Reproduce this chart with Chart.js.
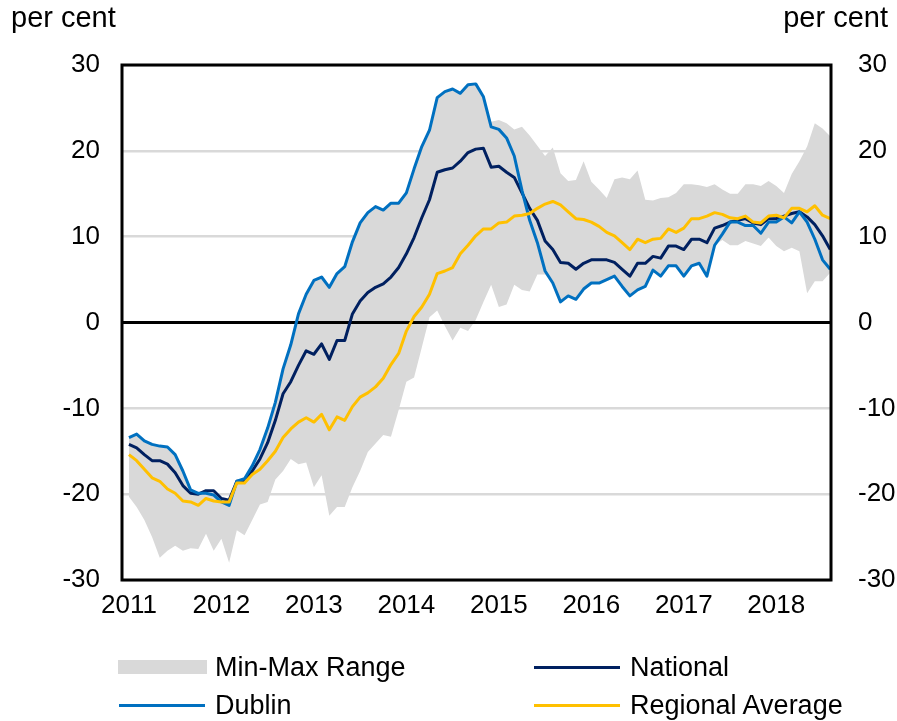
<!DOCTYPE html>
<html>
<head>
<meta charset="utf-8">
<script src="https://cdn.jsdelivr.net/npm/chart.js@4.4.1/dist/chart.umd.min.js"></script>
<style>
  body { margin: 0; background: #fff; }
  #wrap { position: relative; width: 897px; height: 721px; font-family: "Liberation Sans", Arial, sans-serif; color: #000; }
  #chart { position: absolute; left: 0; top: 0; }
  .unit { position: absolute; top: 1px; font-size: 29px; }
  .item { position: absolute; height: 30px; font-size: 27px; line-height: 30px; white-space: nowrap; }
  .item span.sw { position: absolute; left: 0; }
  .item span.txt { position: absolute; }
</style>
</head>
<body>
<div id="wrap">
  <canvas id="chart" width="897" height="721"></canvas>
  <div class="unit" style="left:11px">per cent</div>
  <div class="unit" style="right:9px">per cent</div>
  <div id="legend"></div>
</div>
<script>
// monthly, Jan 2011 .. Aug 2018, annual % change
const yearLabels = ["2011", "2012", "2013", "2014", "2015", "2016", "2017", "2018"];

const dublin = [
  -13.4, -13.0, -13.8, -14.2, -14.4, -14.5, -15.4, -17.3, -19.5, -19.9, -19.9, -20.1,
  -20.9, -21.3, -18.5, -18.2, -16.7, -14.8, -12.3, -9.3, -5.4, -2.6, 1.0, 3.3,
  4.9, 5.3, 4.1, 5.7, 6.5, 9.4, 11.6, 12.8, 13.5, 13.1, 13.9, 13.9,
  15.1, 17.9, 20.5, 22.4, 26.2, 26.9, 27.2, 26.7, 27.7, 27.8, 26.3, 22.8,
  22.5, 21.5, 19.4, 15.4, 11.9, 9.3, 6.0, 4.6, 2.4, 3.1, 2.7, 3.9,
  4.6, 4.6, 5.0, 5.4, 4.2, 3.1, 3.8, 4.2, 6.1, 5.4, 6.6, 6.6,
  5.4, 6.6, 6.9, 5.4, 9.0, 10.3, 11.7, 11.7, 11.3, 11.3, 10.4, 11.7,
  11.7, 12.3, 11.6, 12.9, 11.7, 9.7, 7.3, 6.2
];

const national = [
  -14.2, -14.6, -15.4, -16.1, -16.1, -16.5, -17.5, -19.0, -19.9, -20.0, -19.6, -19.6,
  -20.5, -20.7, -18.5, -18.5, -17.3, -15.9, -14.0, -11.4, -8.3, -6.9, -5.0, -3.3,
  -3.7, -2.5, -4.3, -2.1, -2.1, 1.0, 2.5, 3.5, 4.1, 4.5, 5.3, 6.4,
  8.0, 9.9, 12.2, 14.3, 17.5, 17.8, 18.0, 18.8, 19.8, 20.2, 20.3, 18.1,
  18.2, 17.5, 16.9, 15.1, 13.3, 11.9, 9.5, 8.5, 7.0, 6.9, 6.2, 6.9,
  7.3, 7.3, 7.3, 7.0, 6.2, 5.4, 6.9, 6.9, 7.7, 7.5, 8.9, 8.9,
  8.5, 9.7, 9.7, 9.3, 11.0, 11.3, 11.7, 11.9, 12.1, 11.6, 11.4, 12.1,
  12.1, 12.4, 12.7, 12.9, 12.3, 11.4, 10.1, 8.5
];

const regional = [
  -15.4, -16.1, -17.1, -18.1, -18.5, -19.4, -19.9, -20.8, -20.9, -21.3, -20.5, -20.8,
  -20.9, -20.9, -18.7, -18.7, -17.7, -17.1, -16.1, -15.0, -13.4, -12.4, -11.6, -11.1,
  -11.6, -10.7, -12.5, -11.0, -11.4, -9.8, -8.7, -8.2, -7.5, -6.5, -4.9, -3.6,
  -1.0, 0.7, 1.8, 3.3, 5.7, 6.0, 6.4, 8.0, 9.0, 10.1, 10.9, 10.9,
  11.6, 11.7, 12.4, 12.5, 12.7, 13.3, 13.8, 14.1, 13.7, 12.9, 12.1, 12.0,
  11.7, 11.2, 10.5, 10.1, 9.3, 8.5, 9.7, 9.3, 9.7, 9.8, 10.9, 10.5,
  11.0, 12.1, 12.1, 12.4, 12.8, 12.6, 12.2, 12.1, 12.4, 11.7, 11.6, 12.4,
  12.5, 12.2, 13.3, 13.3, 12.9, 13.6, 12.5, 12.1
];

const rangeMax = [
  -13.4, -13.0, -13.8, -14.2, -14.4, -14.5, -15.4, -17.3, -19.5, -19.9, -19.9, -20.1,
  -20.9, -21.3, -18.5, -18.2, -16.7, -14.8, -12.3, -9.3, -5.4, -2.6, 1.0, 3.3,
  4.9, 5.3, 4.1, 5.7, 6.5, 9.4, 11.6, 12.8, 13.5, 13.1, 13.9, 13.9,
  15.1, 17.9, 20.5, 22.4, 26.2, 26.9, 27.2, 26.7, 27.7, 27.8, 26.3, 23.4,
  23.6, 23.2, 22.5, 22.8, 21.8, 20.6, 19.4, 20.4, 17.4, 16.5, 16.6, 18.8,
  16.4, 15.5, 14.5, 16.7, 16.9, 16.7, 17.7, 14.3, 14.2, 14.5, 14.6, 15.1,
  16.1, 16.1, 16.0, 15.8, 16.1, 15.5, 15.0, 15.0, 16.1, 16.1, 15.9, 16.5,
  15.9, 15.1, 17.3, 18.8, 20.5, 23.2, 22.6, 21.7
];

const rangeMin = [
  -20.3, -21.5, -23.0, -25.0, -27.4, -26.6, -26.0, -26.6, -26.3, -26.4, -24.6, -26.6,
  -25.2, -28.0, -24.2, -24.8, -23.0, -21.2, -20.9, -18.3, -17.3, -15.9, -16.5, -16.3,
  -19.2, -17.8, -22.5, -21.5, -21.5, -19.2, -17.3, -15.1, -14.1, -13.1, -13.3, -10.2,
  -6.9, -6.4, -2.9, 0.6, 1.4, -0.4, -2.1, -0.6, -1.0, 0.3, 2.4, 4.4,
  1.8, 2.1, 4.4, 3.8, 3.6, 5.6, 5.6, 4.6, 2.4, 3.1, 2.7, 3.9,
  4.6, 4.6, 5.0, 5.4, 4.2, 3.1, 3.8, 4.2, 6.1, 5.4, 6.6, 6.6,
  5.4, 6.6, 6.9, 5.4, 9.0, 9.6, 9.0, 9.0, 9.5, 9.2, 8.9, 9.9,
  8.9, 8.3, 8.7, 8.3, 3.4, 4.8, 4.8, 5.8
];

const toPoints = (arr) => arr.map((v, i) => ({ x: i, y: v }));

const GREY = "#d9d9d9";
const FONT = { family: "'Liberation Sans', Arial, sans-serif", size: 26 };

// frame round the plot + black zero line on top of the grey band
const framePlugin = {
  id: "frame",
  afterDatasetDraw(chart, args) {
    if (args.index !== 4) return;
    const { ctx, chartArea } = chart;
    const y0 = chart.scales.y.getPixelForValue(0);
    ctx.save();
    ctx.strokeStyle = "#000";
    ctx.lineWidth = 3;
    ctx.beginPath();
    ctx.moveTo(chartArea.left, y0);
    ctx.lineTo(chartArea.right, y0);
    ctx.stroke();
    ctx.restore();
  },
  afterDraw(chart) {
    const { ctx, chartArea } = chart;
    ctx.save();
    ctx.strokeStyle = "#000";
    ctx.lineWidth = 3;
    ctx.strokeRect(chartArea.left, chartArea.top, chartArea.right - chartArea.left, chartArea.bottom - chartArea.top);
    ctx.restore();
  },
};

const chart = new Chart(document.getElementById("chart"), {
  type: "line",
  data: {
    datasets: [
      { label: "Regional Average", data: toPoints(regional), borderColor: "#ffc000", order: 1 },
      { label: "Dublin", data: toPoints(dublin), borderColor: "#0070c0", order: 2 },
      { label: "National", data: toPoints(national), borderColor: "#002060", order: 3 },
      { label: "Min-Max Range", data: toPoints(rangeMax), borderWidth: 0, borderColor: GREY, backgroundColor: GREY, fill: "+1", order: 10 },
      { label: "min", data: toPoints(rangeMin), borderWidth: 0, borderColor: GREY, fill: false, order: 9 },
    ],
  },
  options: {
    responsive: false,
    animation: false,
    layout: { padding: { top: 65, left: 0, right: 0, bottom: 0 } },
    elements: {
      point: { radius: 0 },
      line: { tension: 0, borderWidth: 3, borderJoinStyle: "round" },
    },
    plugins: { legend: { display: false }, tooltip: { enabled: false } },
    scales: {
      x: {
        type: "linear",
        min: -0.9,
        max: 91.1,
        grid: { display: false },
        border: { display: false },
        afterBuildTicks: (s) => {
          s.ticks = yearLabels.map((y, i) => ({ value: i * 12 }));
        },
        ticks: {
          autoSkip: false,
          maxRotation: 0,
          color: "#000",
          font: FONT,
          padding: 2,
          callback: (v, i) => yearLabels[i],
        },
        afterFit: (s) => { s.height = 141; },
      },
      y: {
        position: "left",
        min: -30,
        max: 30,
        ticks: { stepSize: 10, color: "#000", font: FONT, padding: 22 },
        grid: {
          drawTicks: false,
          lineWidth: 2.5,
          color: (c) => (c.tick.value === 0 ? "rgba(0,0,0,0)" : GREY),
        },
        border: { display: false },
        afterFit: (s) => { s.width = 122; },
      },
      y2: {
        position: "right",
        min: -30,
        max: 30,
        ticks: { stepSize: 10, color: "#000", font: FONT, padding: 27 },
        grid: { display: false, drawTicks: false },
        border: { display: false },
        afterFit: (s) => { s.width = 66; },
      },
    },
  },
  plugins: [framePlugin],
});

// legend in two columns, as in the original
const legendSpots = [
  { ds: 3, left: 118, top: 652, box: true },
  { ds: 2, left: 533, top: 652 },
  { ds: 1, left: 118, top: 690 },
  { ds: 0, left: 533, top: 690 },
];
const legend = document.getElementById("legend");
legendSpots.forEach((spot) => {
  const ds = chart.data.datasets[spot.ds];
  const item = document.createElement("div");
  item.className = "item";
  item.style.left = spot.left + "px";
  item.style.top = spot.top + "px";
  const sw = document.createElement("span");
  sw.className = "sw";
  if (spot.box) {
    sw.style.cssText = `left:0;top:8px;width:89px;height:14px;background:${ds.backgroundColor}`;
  } else {
    sw.style.cssText = `left:1px;top:14px;width:86px;height:3px;background:${ds.borderColor}`;
  }
  const txt = document.createElement("span");
  txt.className = "txt";
  txt.style.left = "97px";
  txt.style.top = "0px";
  txt.textContent = ds.label;
  item.appendChild(sw);
  item.appendChild(txt);
  legend.appendChild(item);
});
</script>
</body>
</html>
